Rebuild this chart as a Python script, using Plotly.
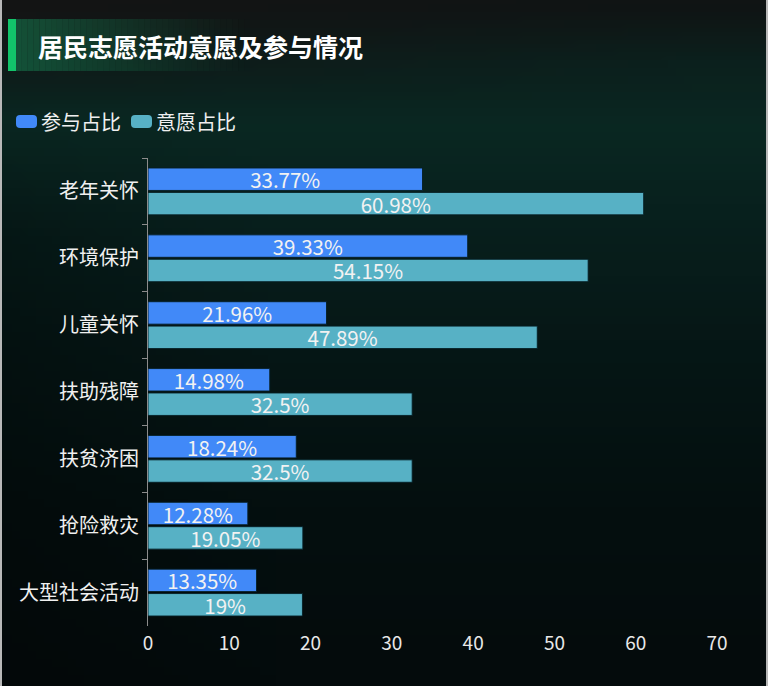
import base64
import struct
import zlib

import numpy as np
import plotly.graph_objects as go

# ---------------- data ----------------
categories = ["老年关怀", "环境保护", "儿童关怀", "扶助残障", "扶贫济困", "抢险救灾", "大型社会活动"]
participation = [33.77, 39.33, 21.96, 14.98, 18.24, 12.28, 13.35]
willingness = [60.98, 54.15, 47.89, 32.5, 32.5, 19.05, 19]
series_names = ["参与占比", "意愿占比"]
x_ticks = [0, 10, 20, 30, 40, 50, 60, 70]
title_text = "居民志愿活动意愿及参与情况"

# ---------------- geometry helpers ----------------
W, H = 768, 686
L, R, T, B = 148, 51, 158, 60
PW, PH = W - L - R, H - T - B


def px(x):
    return (x - L) / PW


def py(y):
    return 1 - (y - T) / PH


# ---------------- background image ----------------
def make_png(arr):
    h, w, _ = arr.shape
    raw = b"".join(b"\x00" + arr[i].astype(np.uint8).tobytes() for i in range(h))

    def chunk(tag, data):
        c = struct.pack(">I", len(data)) + tag + data
        return c + struct.pack(">I", zlib.crc32(tag + data) & 0xFFFFFFFF)

    png = b"\x89PNG\r\n\x1a\n"
    png += chunk(b"IHDR", struct.pack(">IIBBBBB", w, h, 8, 2, 0, 0, 0))
    png += chunk(b"IDAT", zlib.compress(raw, 9))
    png += chunk(b"IEND", b"")
    return "data:image/png;base64," + base64.b64encode(png).decode()


bw, bh = 96, 86
ys = np.linspace(0, 1, bh)
xs = np.linspace(0, 1, bw)
stops = [0, 0.08, 0.18, 0.3, 0.5, 0.75, 1]
cols = np.array([(16, 20, 20), (12, 32, 29), (10, 40, 34), (8, 33, 30), (6, 23, 22), (4, 15, 15), (4, 11, 12)], float)
img = np.zeros((bh, bw, 3))
for c in range(3):
    col = np.interp(ys, stops, cols[:, c])
    img[:, :, c] = col[:, None]
X, Y = np.meshgrid(xs, ys)
t = np.clip(1 - Y / 0.16, 0, 1) * np.clip(1 - X / 0.9, 0, 1)
gray = np.array([20, 21, 21], float)
img = img * (1 - t[..., None]) + gray * t[..., None]
# left side slightly darker in middle
d = np.clip(1 - X / 0.35, 0, 1) * np.clip((Y - 0.15) / 0.2, 0, 1) * 0.25
img = img * (1 - d[..., None])
bg_src = make_png(np.clip(img, 0, 255))

# ---------------- figure ----------------
fig = go.Figure()
colors = ["#4189f8", "#57b1c5"]
for name, vals, colr in zip(series_names, [participation, willingness], colors):
    fig.add_trace(
        go.Bar(
            y=categories,
            x=vals,
            name=name,
            orientation="h",
            marker=dict(color=colr, line=dict(color="rgba(5,30,35,0.9)", width=1)),
            text=[f"{v:g}%" for v in vals],
            textposition="inside",
            insidetextanchor="middle",
            constraintext="none",
            textfont=dict(family="Noto Sans CJK SC", size=20.5, color="#f2f2f2"),
            showlegend=False,
            hoverinfo="skip",
        )
    )

shapes = []
# side borders
shapes.append(dict(type="line", xref="paper", yref="paper", x0=px(1), x1=px(1), y0=py(0), y1=py(H),
                   line=dict(color="#b8b8b8", width=2), layer="above"))
shapes.append(dict(type="line", xref="paper", yref="paper", x0=px(767), x1=px(767), y0=py(0), y1=py(H),
                   line=dict(color="#b8b8b8", width=2), layer="above"))
# title gradient band
n = 40
gx0, gx1 = 16, 250
for i in range(n):
    a = 0.7 * (1 - i / n) ** 1.2
    x0 = gx0 + (gx1 - gx0) * i / n
    x1 = gx0 + (gx1 - gx0) * (i + 1) / n
    shapes.append(dict(type="rect", xref="paper", yref="paper", x0=px(x0), x1=px(x1), y0=py(71), y1=py(19),
                       fillcolor=f"rgba(22,105,70,{a:.3f})", line=dict(width=0), layer="below"))
# title green bar
shapes.append(dict(type="rect", xref="paper", yref="paper", x0=px(8), x1=px(16), y0=py(71), y1=py(19),
                   fillcolor="#12c46a", line=dict(width=0), layer="below"))


def rounded_rect(x0, y0, x1, y1, r):
    X0, X1 = px(x0), px(x1)
    Y0, Y1 = py(y0), py(y1)
    rx, ry = r / PW, r / PH
    return (f"M {X0+rx},{Y0} L {X1-rx},{Y0} Q {X1},{Y0} {X1},{Y0-ry} L {X1},{Y1+ry} Q {X1},{Y1} {X1-rx},{Y1} "
            f"L {X0+rx},{Y1} Q {X0},{Y1} {X0},{Y1+ry} L {X0},{Y0-ry} Q {X0},{Y0} {X0+rx},{Y0} Z")


legend_icon_x = [16, 131]
legend_text_x = [41, 156]
for name, colr, ix, tx in zip(series_names, colors, legend_icon_x, legend_text_x):
    shapes.append(dict(type="path", xref="paper", yref="paper", path=rounded_rect(ix, 115, ix + 21, 128, 4),
                       fillcolor=colr, line=dict(width=0)))

annotations = [
    dict(text=f"<b>{title_text}</b>", xref="paper", yref="paper", x=px(36), y=py(46), xanchor="left",
         yanchor="middle", showarrow=False, font=dict(family="Noto Sans CJK SC", size=25, color="#ffffff")),
]
for name, tx in zip(series_names, legend_text_x):
    annotations.append(dict(text=name, xref="paper", yref="paper", x=px(tx - 2), y=py(121), xanchor="left",
                            yanchor="middle", showarrow=False,
                            font=dict(family="Noto Sans CJK SC", size=20, color="#f0f0f0")))

fig.update_layout(
    width=W,
    height=H,
    margin=dict(l=L, r=R, t=T, b=B, pad=0),
    paper_bgcolor="#061614",
    plot_bgcolor="rgba(0,0,0,0)",
    barmode="group",
    bargap=0.27,
    bargroupgap=0.08,
    shapes=shapes,
    annotations=annotations,
    images=[dict(source=bg_src, xref="paper", yref="paper", x=px(0), y=py(0), sizex=W / PW, sizey=H / PH,
                 xanchor="left", yanchor="top", sizing="stretch", layer="below")],
    xaxis=dict(range=[0, 70], tickvals=x_ticks, showgrid=False, zeroline=False, showline=False, ticks="",
               ticklabelstandoff=4,
               tickfont=dict(family="Noto Sans CJK SC", size=19, color="#e8e8e8"), fixedrange=True),
    yaxis=dict(categoryorder="array", categoryarray=categories, autorange="reversed", showgrid=False,
               zeroline=False, showline=True, linecolor="#8c8c8c", linewidth=1, ticks="outside",
               tickson="boundaries", ticklen=5, tickcolor="#8c8c8c", ticklabelstandoff=4,
               tickfont=dict(family="Noto Sans CJK SC", size=20, color="#f0f0f0"), fixedrange=True),
    showlegend=False,
)

fig.write_html("out.html")
